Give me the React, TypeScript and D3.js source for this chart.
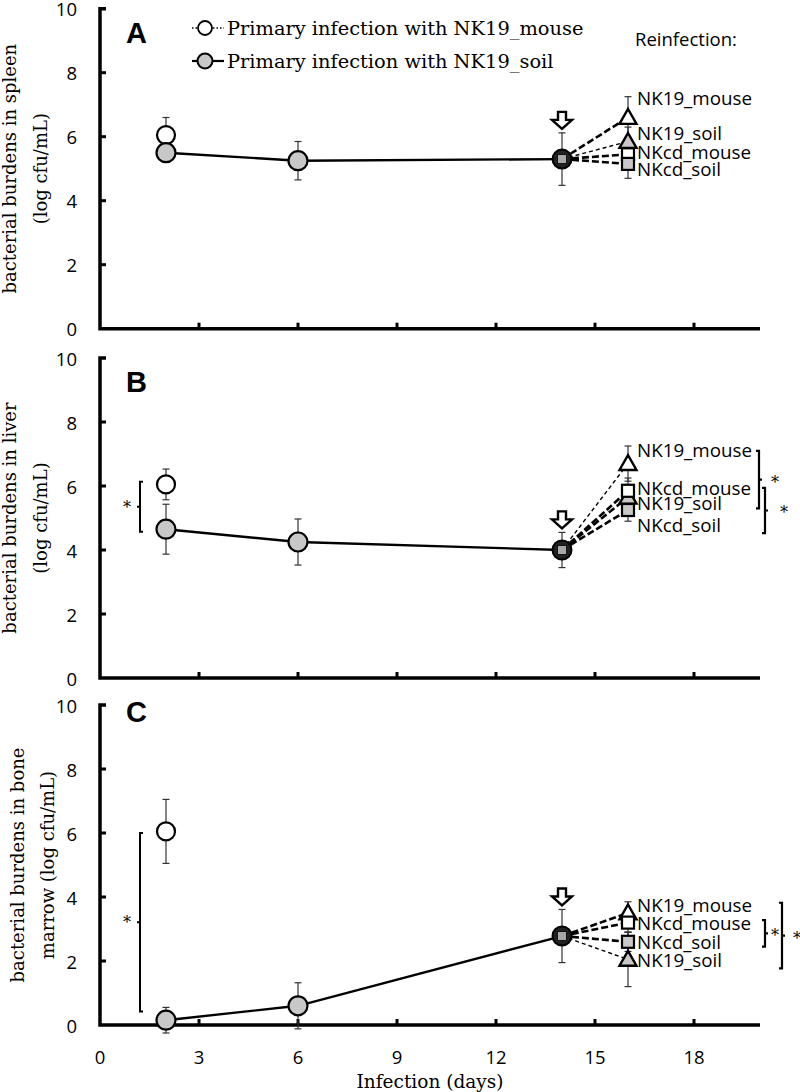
import React from "react";
import * as d3 from "d3";

// ---------- data ----------
const panelLetters = ["A", "B", "C"];
const yTitles = [
  ["bacterial burdens in spleen", "(log cfu/mL)"],
  ["bacterial burdens in liver", "(log cfu/mL)"],
  ["bacterial burdens in bone", "marrow (log cfu/mL)"],
];
const xTicks = [0, 3, 6, 9, 12, 15, 18];
const yTicks = [0, 2, 4, 6, 8, 10];

// primary infection with NK19_mouse (only day 2)
const mouseDays = [2];
const mouseValues = [[6.05], [6.05], [6.05]];
const mouseErrors = [[0.55], [0.48], [1.0]];

// primary infection with NK19_soil
const soilDays = [2, 6, 14];
const soilValues = [
  [5.5, 5.25, 5.3],
  [4.65, 4.25, 4.0],
  [0.15, 0.6, 2.78],
];
const soilErrors = [
  [0.2, 0.6, 0.82],
  [0.78, 0.72, 0.55],
  [0.4, 0.72, 0.83],
];

// reinfection (day 14 -> day 16)
const reinfectionDay = 16;
const reinfectionStrains = ["NK19_mouse", "NK19_soil", "NKcd_mouse", "NKcd_soil"];
const reinfectionValues = [
  [6.6, 5.85, 5.45, 5.15],
  [6.7, 5.65, 5.85, 5.25],
  [3.5, 2.05, 3.2, 2.6],
];
const reinfectionErrors = [
  [0.65, 0.45, 0.3, 0.45],
  [0.55, 0.4, 0.4, 0.35],
  [0.35, 0.85, 0.3, 0.3],
];

// significance brackets (value ranges)
const leftBrackets = [null, [6.13, 4.57], [6.0, 0.42]];
const rightBrackets = [
  [],
  [[7.1, 5.3], [5.94, 4.53]],
  [[3.28, 2.45], [3.82, 1.77]],
];

// ---------- layout / style ----------
const W = 800;
const H = 1092;
const panelTops = [8.7, 358, 705];
const panelH = 320;
const x = d3.scaleLinear().domain([0, 20]).range([100, 760]);
const SERIF = "'DejaVu Serif', serif";
const SANS = "'Open Sans', sans-serif";
const GRAY = "#c8c8c8";

// label placement per panel (value units for vertical position)
const labelY = [
  [7.21, 6.12, 5.53, 5.0],
  [7.12, 5.47, 5.94, 4.78],
  [3.75, 2.03, 3.19, 2.6],
];
// thin dashed line flag per strain per panel
const thinLine = [
  [false, true, false, false],
  [true, false, false, false],
  [false, true, false, false],
];
const titleX = [
  [16, 47],
  [16, 47],
  [24, 54],
];
const rightBracketX = [[], [759, 765], [765, 782]];
const rightStarX = [[], [775, 784], [775, 797]];

function ErrorBar({ cx, y1, y2 }: { cx: number; y1: number; y2: number }) {
  return (
    <g stroke="#333" strokeWidth={1.2}>
      <line x1={cx} x2={cx} y1={y1} y2={y2} />
      <line x1={cx - 3.5} x2={cx + 3.5} y1={y1} y2={y1} />
      <line x1={cx - 3.5} x2={cx + 3.5} y1={y2} y2={y2} />
    </g>
  );
}

function Marker({ strain, cx, cy }: { strain: string; cx: number; cy: number }) {
  const fill = strain.endsWith("soil") ? GRAY : "#fff";
  if (strain.startsWith("NK19")) {
    const s = 8.5;
    const p = `M${cx},${cy - s} L${cx + s},${cy + s * 0.75} L${cx - s},${cy + s * 0.75} Z`;
    return <path d={p} fill={fill} stroke="#000" strokeWidth={2.4} />;
  }
  return (
    <rect x={cx - 6} y={cy - 6} width={12} height={12} fill={fill} stroke="#000" strokeWidth={2.2} />
  );
}

function Panel({ i }: { i: number }) {
  const top = panelTops[i];
  const y = d3.scaleLinear().domain([0, 10]).range([top + panelH, top]);
  const y0 = y(0);
  const x0 = x(0);
  const line = d3
    .line<[number, number]>()
    .x((d) => x(d[0]))
    .y((d) => y(d[1]));
  const soilPts: [number, number][] = soilDays.map((d, k) => [d, soilValues[i][k]]);
  const d14 = soilValues[i][2];
  const d14Err = soilErrors[i][2];
  const ax = x(14);
  const aBot = y(d14 + d14Err) - 4;
  const arrow = `M${ax - 4},${aBot - 17} L${ax + 4},${aBot - 17} L${ax + 4},${aBot - 9} L${ax + 10},${aBot - 9} L${ax},${aBot} L${ax - 10},${aBot - 9} L${ax - 4},${aBot - 9} Z`;
  const cy = top + panelH / 2;
  return (
    <g>
      {/* axis tick labels */}
      {yTicks.map((t) => (
        <text
          key={t}
          x={77}
          y={y(t)}
          textAnchor="end"
          dominantBaseline="central"
          fontFamily={SANS}
          fontSize={18.5}
        >
          {t}
        </text>
      ))}
      {/* y title */}
      {yTitles[i].map((s, k) => (
        <text
          key={k}
          transform={`translate(${titleX[i][k]},${cy}) rotate(-90)`}
          textAnchor="middle"
          fontFamily={SERIF}
          fontSize={18}
        >
          {s}
        </text>
      ))}
      {/* axes */}
      <path
        d={`M${x0 + 6},${y(10)} L${x0},${y(10)} L${x0},${y0} L${x(20)},${y0}`}
        fill="none"
        stroke="#000"
        strokeWidth={3.5}
      />
      {yTicks.slice(1, -1).map((t) => (
        <line key={t} x1={x0} x2={x0 + 6} y1={y(t)} y2={y(t)} stroke="#000" strokeWidth={3} />
      ))}
      {xTicks.slice(1).map((t) => (
        <line key={t} x1={x(t)} x2={x(t)} y1={y0} y2={y0 - 6} stroke="#000" strokeWidth={3} />
      ))}
      {i === 2 &&
        xTicks.map((t) => (
          <text
            key={t}
            x={x(t)}
            y={y0 + 31}
            textAnchor="middle"
            dominantBaseline="central"
            fontFamily={SANS}
            fontSize={18.5}
          >
            {t}
          </text>
        ))}
      {/* panel letter */}
      <text
        x={126}
        y={i === 2 ? top + 17 : top + 34}
        fontFamily="'Liberation Sans', Arial, sans-serif"
        fontWeight="bold"
        fontSize={29}
      >
        {panelLetters[i]}
      </text>

      {/* reinfection lines */}
      {reinfectionStrains.map((s, k) => (
        <path
          key={s}
          d={line([
            [14, d14],
            [reinfectionDay, reinfectionValues[i][k]],
          ]) as string}
          fill="none"
          stroke="#000"
          strokeWidth={thinLine[i][k] ? 1.4 : 2.6}
          strokeDasharray={thinLine[i][k] ? "4,3" : "7,3"}
        />
      ))}
      {/* soil line */}
      <path d={line(soilPts) as string} fill="none" stroke="#000" strokeWidth={2.4} />

      {/* error bars */}
      {soilDays.map((d, k) => (
        <ErrorBar
          key={"s" + d}
          cx={x(d)}
          y1={y(soilValues[i][k] + soilErrors[i][k])}
          y2={y(soilValues[i][k] - soilErrors[i][k])}
        />
      ))}
      {mouseDays.map((d, k) => (
        <ErrorBar
          key={"m" + d}
          cx={x(d)}
          y1={y(mouseValues[i][k] + mouseErrors[i][k])}
          y2={y(mouseValues[i][k] - mouseErrors[i][k])}
        />
      ))}
      {reinfectionStrains.map((s, k) => (
        <ErrorBar
          key={"r" + s}
          cx={x(reinfectionDay)}
          y1={y(reinfectionValues[i][k] + reinfectionErrors[i][k])}
          y2={y(reinfectionValues[i][k] - reinfectionErrors[i][k])}
        />
      ))}

      {/* markers */}
      {mouseDays.map((d, k) => (
        <circle key={"mc" + d} cx={x(d)} cy={y(mouseValues[i][k])} r={9} fill="#fff" stroke="#000" strokeWidth={2.2} />
      ))}
      {soilDays.map((d, k) =>
        d === 14 ? (
          <g key={"sc" + d}>
            <circle cx={x(d)} cy={y(soilValues[i][k])} r={9.5} fill="#222" stroke="#000" strokeWidth={2} />
            <rect
              x={x(d) - 4.5}
              y={y(soilValues[i][k]) - 4.5}
              width={9}
              height={9}
              fill="#a8a8a8"
              stroke="#000"
              strokeWidth={0.8}
            />
          </g>
        ) : (
          <circle key={"sc" + d} cx={x(d)} cy={y(soilValues[i][k])} r={9.5} fill={GRAY} stroke="#000" strokeWidth={2.2} />
        )
      )}
      {reinfectionStrains.map((s, k) => (
        <Marker key={"rm" + s} strain={s} cx={x(reinfectionDay)} cy={y(reinfectionValues[i][k])} />
      ))}

      {/* arrow */}
      <path d={arrow} fill="#fff" stroke="#000" strokeWidth={2.4} strokeLinejoin="miter" />

      {/* strain labels */}
      {reinfectionStrains.map((s, k) => (
        <text
          key={"lb" + s}
          x={x(reinfectionDay) + 9}
          y={y(labelY[i][k])}
          dominantBaseline="central"
          fontFamily={SANS}
          fontSize={18.8}
        >
          {s}
        </text>
      ))}

      {/* left bracket */}
      {leftBrackets[i] && (
        <g>
          <path
            d={`M${143},${y(leftBrackets[i]![0])} L${140},${y(leftBrackets[i]![0])} L${140},${y(
              leftBrackets[i]![1]
            )} L${143},${y(leftBrackets[i]![1])} M140,${y(
              (leftBrackets[i]![0] + leftBrackets[i]![1]) / 2
            )} L137,${y((leftBrackets[i]![0] + leftBrackets[i]![1]) / 2)}`}
            fill="none"
            stroke="#000"
            strokeWidth={2}
          />
          <text
            x={127}
            y={y((leftBrackets[i]![0] + leftBrackets[i]![1]) / 2) + 6}
            textAnchor="middle"
            fontFamily={SERIF}
            fontSize={16}
            fill="#000"
          >
            *
          </text>
        </g>
      )}
      {/* right brackets */}
      {rightBrackets[i].map((b, k) => {
        const bx = rightBracketX[i][k];
        const mid = y((b[0] + b[1]) / 2);
        return (
          <g key={"rb" + k}>
            <path
              d={`M${bx - 3},${y(b[0])} L${bx},${y(b[0])} L${bx},${y(b[1])} L${bx - 3},${y(b[1])} M${bx},${mid} L${bx + 3},${mid}`}
              fill="none"
              stroke="#000"
              strokeWidth={2.2}
            />
            <text x={rightStarX[i][k]} y={mid + 8} textAnchor="middle" fontFamily={SERIF} fontSize={16} fill="#000">
              *
            </text>
          </g>
        );
      })}
    </g>
  );
}

export default function App() {
  return (
    <svg
      width={W}
      height={H}
      style={{ position: "absolute", left: 0, top: 0, background: "#fff" }}
    >
      <rect width={W} height={H} fill="#fff" />
      {panelLetters.map((_, i) => (
        <Panel key={i} i={i} />
      ))}
      {/* legend */}
      <g>
        <line x1={192} x2={224} y1={28} y2={28} stroke="#000" strokeWidth={1.4} strokeDasharray="1.5,2" />
        <circle cx={205} cy={28} r={7} fill="#fff" stroke="#000" strokeWidth={1.8} />
        <text x={227} y={28} dominantBaseline="central" fontFamily={SERIF} fontSize={19.4}>
          Primary infection with NK19_mouse
        </text>
        <line x1={192} x2={224} y1={61} y2={61} stroke="#000" strokeWidth={2.2} />
        <circle cx={205} cy={61} r={7.5} fill={GRAY} stroke="#000" strokeWidth={2} />
        <text x={227} y={61} dominantBaseline="central" fontFamily={SERIF} fontSize={19.4}>
          Primary infection with NK19_soil
        </text>
        <text x={635} y={38} dominantBaseline="central" fontFamily={SANS} fontSize={18.5}>
          Reinfection:
        </text>
      </g>
      <text x={430} y={1081} textAnchor="middle" dominantBaseline="central" fontFamily={SERIF} fontSize={18.5}>
        Infection (days)
      </text>
    </svg>
  );
}
